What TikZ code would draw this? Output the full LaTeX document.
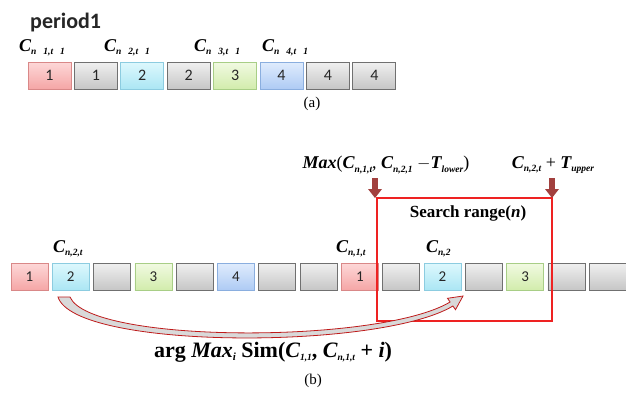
\documentclass[tikz,border=0pt]{standalone}
\usepackage{fontspec}
\setmainfont{Liberation Serif}
\newfontfamily\boxfont{Carlito}
\usetikzlibrary{calc}
\definecolor{pkT}{HTML}{FDD8D8}\definecolor{pkB}{HTML}{F5A6A6}\definecolor{pkD}{HTML}{D98888}
\definecolor{grT}{HTML}{F0F0F0}\definecolor{grB}{HTML}{C6C6C6}\definecolor{grD}{HTML}{707070}
\definecolor{cyT}{HTML}{DEF8FD}\definecolor{cyB}{HTML}{ABE6F4}\definecolor{cyD}{HTML}{8CCCE0}
\definecolor{gnT}{HTML}{F1FAE2}\definecolor{gnB}{HTML}{D2ECAC}\definecolor{gnD}{HTML}{A8CE86}
\definecolor{blT}{HTML}{E0ECFD}\definecolor{blB}{HTML}{AECBF4}\definecolor{blD}{HTML}{8AAEDF}
\definecolor{darr}{HTML}{A2403E}
\definecolor{rbox}{HTML}{EE2222}
\newcommand\Cl[1]{{\bfseries\itshape C}{\bfseries\itshape\fontsize{9.5}{9.5}\selectfont\raisebox{-3.5pt}{#1}}}
\newcommand\Tl[1]{{\bfseries\itshape T}{\bfseries\itshape\fontsize{9.5}{9.5}\selectfont\raisebox{-3.5pt}{#1}}}
\newcommand\gap{\hspace{7pt}}
\tikzset{
  cell/.style={minimum height=27pt, inner sep=0pt, shading=axis, line width=0.8pt,
    text=black!85, font=\boxfont\fontsize{16}{16}\selectfont},
  cella/.style={cell, minimum width=43pt},
  cellb/.style={cell, minimum width=37pt, font=\boxfont\fontsize{15}{15}\selectfont},
  pk/.style={top color=pkT, bottom color=pkB, draw=pkD},
  gr/.style={top color=grT, bottom color=grB, draw=grD},
  cy/.style={top color=cyT, bottom color=cyB, draw=cyD},
  gn/.style={top color=gnT, bottom color=gnB, draw=gnD},
  bl/.style={top color=blT, bottom color=blB, draw=blD},
  clab/.style={anchor=west, inner sep=0pt, font=\fontsize{18}{18}\selectfont},
  captxt/.style={inner sep=0pt, font=\fontsize{15}{15}\selectfont},
  downarr/.style={fill=darr, draw=none},
}
\begin{document}
\begin{tikzpicture}[x=1pt,y=-1pt]
\useasboundingbox (0,0) rectangle (626,397);
% ---------- (a)
\node[anchor=west, inner sep=0pt, font=\boxfont\bfseries\fontsize{22}{22}\selectfont, text=black!85] (period) at (30,23) {period1};
\foreach \i/\s/\t in {0/pk/1,1/gr/1,2/cy/2,3/gr/2,4/gn/3,5/bl/4,6/gr/4,7/gr/4}{
  \node[cella,\s] (a\i) at ({49.5+46.4*\i},75.5) {\t};
}
\node[clab] (la1) at (19,48) {\Cl{n\gap 1,t\gap 1}};
\node[clab] (la2) at (104,48) {\Cl{n\gap 2,t\gap 1}};
\node[clab] (la3) at (194,48) {\Cl{n\gap 3,t\gap 1}};
\node[clab] (la4) at (262,48) {\Cl{n\gap 4,t\gap 1}};
\node[captxt] (capa) at (312,104) {(a)};
% ---------- (b)
\foreach \i/\s/\t in {0/pk/1,1/cy/2,2/gr/{},3/gn/3,4/gr/{},5/bl/4,6/gr/{},7/gr/{},8/pk/1,9/gr/{},10/cy/2,11/gr/{},12/gn/3,13/gr/{},14/gr/{}}{
  \node[cellb,\s] (b\i) at ({29.5+41.3*\i},276.5) {\t};
}
\node[clab] (lb1) at (53,249) {\Cl{n,2,t}};
\node[clab] (lb2) at (336,249) {\Cl{n,1,t}};
\node[clab] (lb3) at (426,249) {\Cl{n,2}};
% search range box
\coordinate (rTL) at (377,198);
\coordinate (rBR) at (552,321);
\draw[rbox, line width=1.6pt] (rTL) rectangle (rBR);
\node[inner sep=0pt, font=\bfseries\fontsize{17}{17}\selectfont] (sr) at (468,213) {Search range(\textit{n})};
% down arrows
\foreach \xx/\nm in {375/d1,552/d2}{
  \coordinate (\nm) at (\xx,198);
  \fill[downarr] ($(\nm)+(-2.8,-20)$) -- ($(\nm)+(2.8,-20)$) -- ($(\nm)+(2.8,-9)$) -- ($(\nm)+(7,-9)$)
     -- (\nm) -- ($(\nm)+(-7,-9)$) -- ($(\nm)+(-2.8,-9)$) -- cycle;
}
\node[inner sep=0pt, font=\fontsize{18}{18}\selectfont] (maxl) at (386,165)
  {{\bfseries\itshape Max}(\Cl{n,1,t}, \Cl{n,2,1} $-$\Tl{lower})};
\node[inner sep=0pt, font=\fontsize{18}{18}\selectfont] (upl) at (553,165)
  {\Cl{n,2,t} + \Tl{upper}};
% curved arrow
\path[fill=grT!80!gray, draw=rbox!80!black, line width=0.8pt]
  (58,297) .. controls (75,350) and (380,350) .. (452.9,306)
  -- (455.5,309.7) -- (463,296) -- (447.5,298.3) -- (450.1,302)
  .. controls (380,344) and (90,344) .. (70,297) -- cycle;
\node[inner sep=0pt, font=\bfseries\fontsize{22}{22}\selectfont] (argl) at (273,352)
  {arg \textit{Max}\raisebox{-3.5pt}{\fontsize{11}{11}\selectfont\textit{i}} Sim(\Cl{1,1}, \Cl{n,1,t} + \textit{i})};
\node[captxt] (capb) at (313,381) {(b)};
\end{tikzpicture}
\end{document}
